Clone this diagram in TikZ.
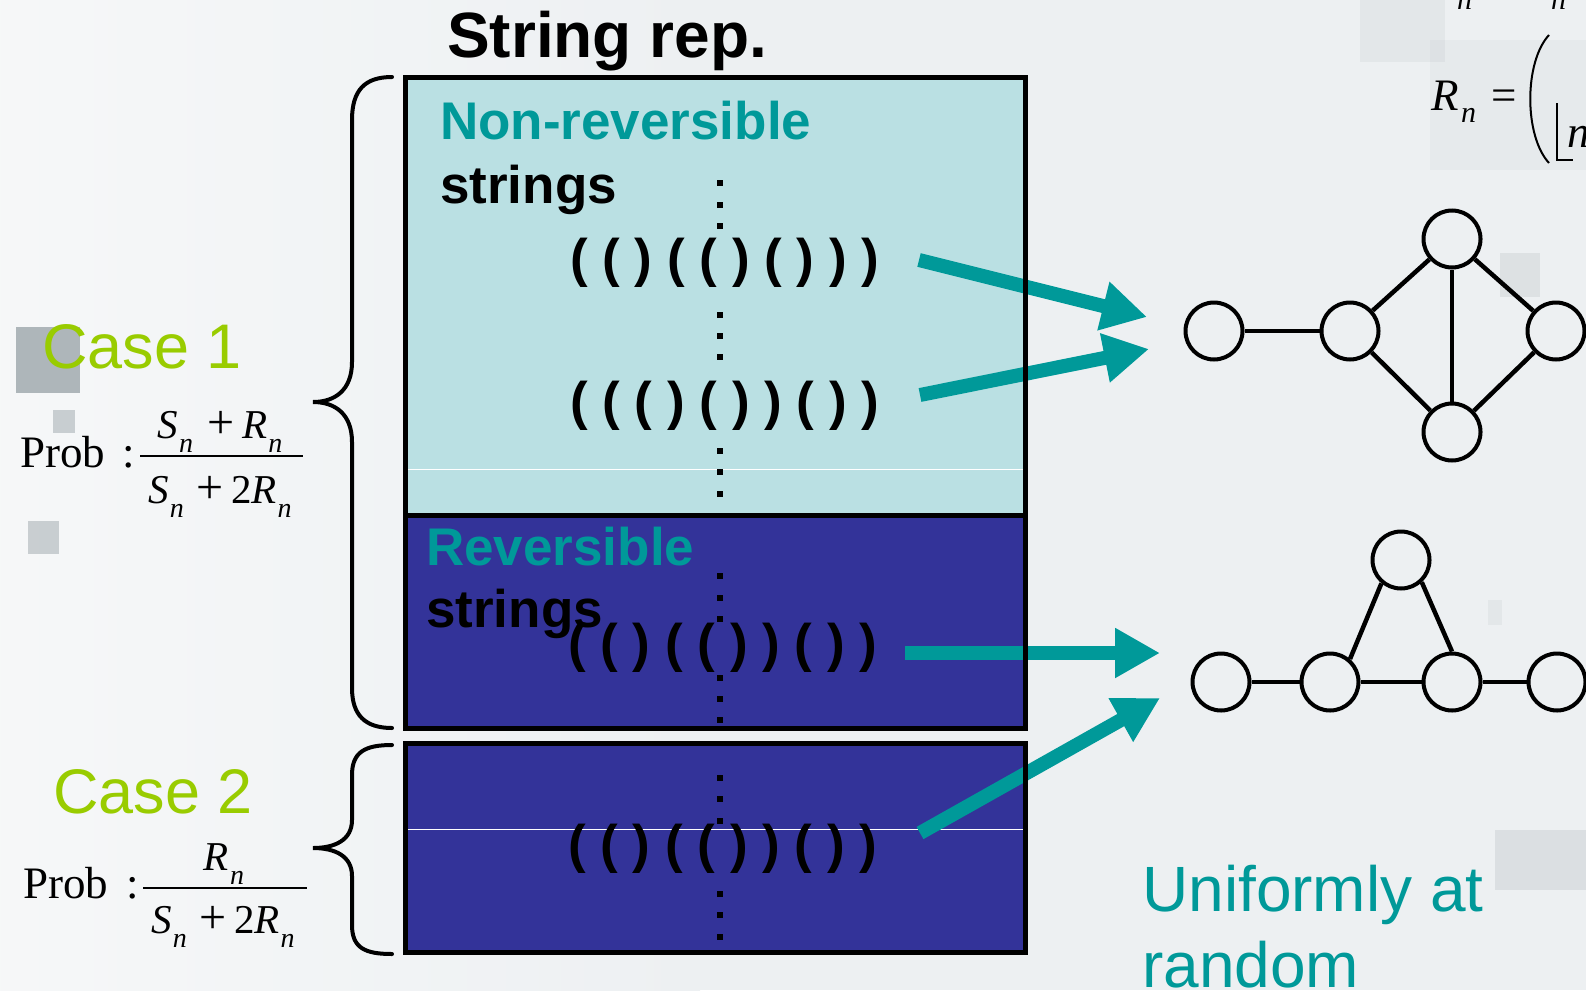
\documentclass[tikz,border=0pt]{standalone}
\usepackage{fontspec}
\setmainfont{Liberation Sans}
\newfontfamily\tms{Liberation Serif}
\usetikzlibrary{arrows.meta}
\definecolor{tealc}{HTML}{009999}
\definecolor{greenc}{HTML}{99CC00}
\definecolor{navyc}{HTML}{333399}
\definecolor{cyanc}{HTML}{BAE0E3}
\definecolor{bgc}{HTML}{EDF0F2}
\definecolor{sqc}{HTML}{9DA6AB}
\newcommand\fs[1]{\fontsize{#1}{#1}\selectfont}
\newcommand\Sb[2]{\textit{#1}\kern1pt\raisebox{-14pt}{\fs{28}\textit{#2}}}
\begin{document}
\begin{tikzpicture}[x=1pt,y=-1pt,
  lbl/.style={anchor=base west, inner sep=0, font=\fs{53}\bfseries},
  par/.style={anchor=base west, inner sep=0, font=\fs{53}\bfseries},
  cse/.style={anchor=base west, inner sep=0, text=greenc},
  mth/.style={anchor=base, inner sep=0, font=\tms\fs{41}},
  prb/.style={anchor=base west, inner sep=0, font=\tms\fs{45}},
  gn/.style={circle, draw, line width=4pt, minimum size=57pt, inner sep=0},
  ge/.style={line width=4.5pt},
  arr/.style={tealc, line width=14pt, -{Triangle[width=47pt,length=45pt]}},
  boxb/.style={draw=black, line width=5pt},
  brc/.style={line width=4pt, line cap=round}]
\useasboundingbox (0,0) rectangle (1586,990);
\clip (0,0) rectangle (1586,990);
% background
\fill[bgc] (0,0) rectangle (1586,990);
\shade[left color=white!50!bgc, right color=bgc] (0,0) rectangle (700,990);
\fill[sqc, opacity=0.8] (16,327) rectangle (80,393);
\fill[sqc, opacity=0.5] (53,410) rectangle (75,433);
\fill[sqc, opacity=0.5] (28,521) rectangle (59,554);
\fill[sqc, opacity=0.12] (1360,0) rectangle (1445,62);
\fill[sqc, opacity=0.08] (1430,40) rectangle (1586,170);
\fill[sqc, opacity=0.2] (1500,253) rectangle (1540,297);
\fill[sqc, opacity=0.12] (1488,600) rectangle (1502,625);
\fill[sqc, opacity=0.22] (1495,830) rectangle (1586,890);
% boxes fills
\fill[cyanc] (405,77) rectangle (1025,515);
\fill[navyc] (405,515) rectangle (1025,728);
\fill[navyc] (405,743) rectangle (1025,952);
\draw[white, line width=1pt] (407,469) -- (1023,469);
\draw[white, line width=1pt] (407,829) -- (1023,829);
% dotted column
\foreach \y in {183,205,226,315,336,357,451,472,494,576,598,619,678,699,720,778,799,821,894,915,937}
  \fill (717,\y-3) rectangle ++(6,6);
% strings
\node[par] (p1) at (570,276) {( ( ) ( ( ) ( ) ) )};
\node[par] (p2) at (570,419) {( ( ( ) ( ) ) ( ) )};
\node[par] (p3) at (568,661) {( ( ) ( ( ) ) ( ) )};
\node[par] (p4) at (568,862) {( ( ) ( ( ) ) ( ) )};
% labels
\node[lbl, font=\fs{64}\bfseries] (title) at (447,58) {String rep.};
\node[lbl, text=tealc] (nr) at (440,139) {Non-reversible};
\node[lbl] (s1) at (440,203) {strings};
\node[lbl, text=tealc] (rv) at (426,565) {Reversible};
\node[lbl] (s2) at (426,627) {strings};
% arrows
\coordinate (a1s) at (919,260); \coordinate (a1e) at (1147,317);
\coordinate (a2s) at (920,395); \coordinate (a2e) at (1149,349);
\coordinate (a3s) at (905,653); \coordinate (a3e) at (1160,653);
\coordinate (a4s) at (920,833); \coordinate (a4e) at (1160,698);
\draw[arr] (a1s) -- (a1e);
\draw[arr] (a2s) -- (a2e);
\draw[arr] (a3s) -- (a3e);
\draw[arr] (a4s) -- (a4e);
% box borders
\draw[boxb] (405,77) rectangle (1025,515);
\draw[boxb] (405,515) rectangle (1025,728);
\draw[boxb] (405,743) rectangle (1025,952);
% braces
\draw[brc] (392,77) .. controls (365,77) and (352,90) .. (352,120) -- (352,362)
  .. controls (352,390) and (335,402) .. (313,402)
  .. controls (335,402) and (352,414) .. (352,442) -- (352,688)
  .. controls (352,715) and (365,728) .. (392,728);
\draw[brc] (392,745) .. controls (365,745) and (352,752) .. (352,775) -- (352,820)
  .. controls (352,840) and (335,848) .. (313,848)
  .. controls (335,848) and (352,856) .. (352,876) -- (352,925)
  .. controls (352,948) and (365,954) .. (392,954);
% cases
\node[cse, font=\fs{63}] (c1) at (42,368) {Case 1};
\node[cse, font=\fs{63}] (c2) at (53,813) {Case 2};
% probabilities
\node[prb] (pr1) at (20,467) {Prob};
\node[prb] (co1) at (122,467) {:};
\draw[line width=2pt] (140,456) -- (303,456);
\node[mth] (n1) at (220,438) {\Sb{S}{n}\hspace{14pt}{\fs{48}+}\hspace{8pt}\Sb{R}{n}};
\node[mth] (d1) at (220,503) {\Sb{S}{n}\hspace{13pt}{\fs{48}+}\hspace{7pt}2\Sb{R}{n}};
\node[prb] (pr2) at (23,898) {Prob};
\node[prb] (co2) at (126,898) {:};
\draw[line width=2pt] (143,888) -- (307,888);
\node[mth] (n2) at (224,870) {\Sb{R}{n}};
\node[mth] (d2) at (223,933) {\Sb{S}{n}\hspace{13pt}{\fs{48}+}\hspace{7pt}2\Sb{R}{n}};
% top-right formula fragment
\node[anchor=base west, inner sep=0, font=\tms\fs{45}\itshape] (rr) at (1431,110) {R};
\node[anchor=base west, inner sep=0, font=\tms\fs{30}\itshape] (rn) at (1461,122) {n};
\node[anchor=base west, inner sep=0, font=\tms\fs{45}] (eq) at (1491,110) {=};
\node[anchor=base west, inner sep=0, font=\tms\fs{30}\itshape] (t1) at (1457,10) {n};
\node[anchor=base west, inner sep=0, font=\tms\fs{30}\itshape] (t2) at (1551,10) {n};
\draw[line width=2pt] (1549,35) .. controls (1524,62) and (1524,136) .. (1549,163);
\draw[line width=2pt] (1557,103) -- (1557,160) -- (1573,160);
\node[anchor=base west, inner sep=0, font=\tms\fs{45}\itshape] (nn) at (1567,147) {n};
% graph 1
\node[gn] (A) at (1214,331) {};
\node[gn] (B) at (1350,331) {};
\node[gn] (C) at (1452,239) {};
\node[gn] (D) at (1452,432) {};
\node[gn] (E) at (1556,331) {};
\draw[ge] (A) -- (B);
\draw[ge] (B) -- (C);
\draw[ge] (B) -- (D);
\draw[ge] (C) -- (D);
\draw[ge] (C) -- (E);
\draw[ge] (D) -- (E);
% graph 2
\node[gn] (F) at (1221,682) {};
\node[gn] (G) at (1330,682) {};
\node[gn] (H) at (1401,560) {};
\node[gn] (I) at (1452,682) {};
\node[gn] (J) at (1557,682) {};
\draw[ge] (F) -- (G);
\draw[ge] (G) -- (I);
\draw[ge] (I) -- (J);
\draw[ge] (H.230) -- (G.49);
\draw[ge] (H.313) -- (I.90);
% uniformly
\node[anchor=base west, inner sep=0, font=\fs{64}, text=tealc] (u1) at (1142,911) {Uniformly at};
\node[anchor=base west, inner sep=0, font=\fs{64}, text=tealc] (u2) at (1142,987) {random};
\end{tikzpicture}
\end{document}
